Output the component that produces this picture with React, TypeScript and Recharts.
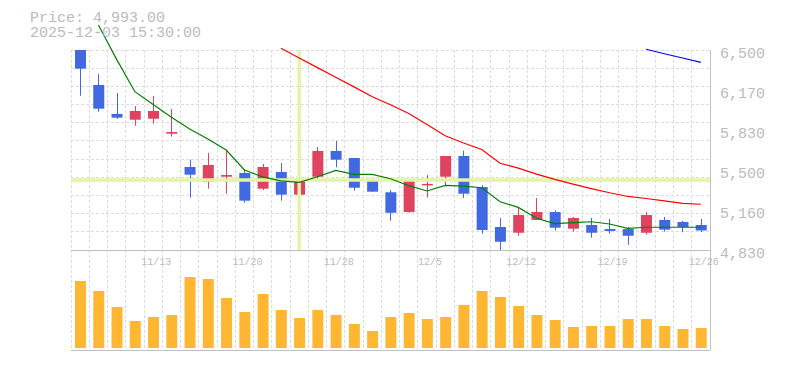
import { Bar, BarChart, CartesianGrid, ComposedChart, Line, ReferenceLine, XAxis, YAxis } from "recharts"

// daily candles, 2025/11/7 - 12/26
const dates = [
  "11/7", "11/10", "11/11", "11/12", "11/13", "11/14", "11/17", "11/18", "11/19", "11/20",
  "11/21", "11/25", "11/26", "11/27", "11/28", "12/1", "12/2", "12/3", "12/4", "12/5",
  "12/8", "12/9", "12/10", "12/11", "12/12", "12/15", "12/16", "12/17", "12/18", "12/19",
  "12/22", "12/23", "12/24", "12/25", "12/26",
]
const opens = [
  6500, 6208, 5966, 5918, 5926, 5801, 5523, 5400, 5442, 5473,
  5342, 5481, 5292, 5442, 5657, 5598, 5406, 5312, 5147, 5376,
  5442, 5615, 5356, 5022, 4974, 5081, 5147, 5008, 5039, 5005,
  5005, 4974, 5081, 5064, 5039,
]
const highs = [
  6500, 6300, 6141, 6032, 6116, 6007, 5584, 5640, 5665, 5504,
  5548, 5556, 5415, 5690, 5740, 5598, 5420, 5331, 5415, 5456,
  5615, 5659, 5373, 5097, 5183, 5264, 5161, 5106, 5097, 5089,
  5022, 5147, 5106, 5072, 5089,
]
const lows = [
  6118, 5985, 5926, 5868, 5885, 5776, 5267, 5342, 5300, 5225,
  5331, 5242, 5233, 5420, 5521, 5325, 5317, 5075, 5141, 5267,
  5370, 5264, 4966, 4830, 4949, 5081, 4991, 4983, 4933, 4966,
  4874, 4958, 4983, 4978, 4980,
]
const closes = [
  6344, 6010, 5935, 5991, 5991, 5815, 5459, 5540, 5456, 5242,
  5523, 5292, 5415, 5657, 5584, 5350, 5317, 5141, 5415, 5382,
  5615, 5300, 4997, 4899, 5122, 5147, 5016, 5097, 4974, 4989,
  4949, 5122, 5000, 5022, 4993,
]
const ma5 = [
  null, 6709, 6422, 6152, 6045, 5938, 5840, 5757, 5665, 5498,
  5440, 5407, 5395, 5442, 5495, 5462, 5462, 5425, 5367, 5323,
  5370, 5364, 5350, 5233, 5186, 5095, 5050, 5058, 5066, 5047,
  5011, 5020, 5020, 5020, 5020,
]
const ma25 = [
  null, null, null, null, null, null, null, null, null, null,
  null, 6514, 6433, 6353, 6272, 6192, 6109, 6043, 5970, 5877,
  5784, 5723, 5669, 5554, 5514, 5463, 5420, 5380, 5343, 5308,
  5277, 5260, 5240, 5219, 5212,
]
const ma75 = [
  null, null, null, null, null, null, null, null, null, null,
  null, null, null, null, null, null, null, null, null, null,
  null, null, null, null, null, null, null, null, null, null,
  null, 6506, 6469, 6433, 6397,
]
const volumes = [
  67000, 57000, 41000, 27000, 31000, 33000, 71000, 69000, 50000, 36000,
  54000, 38000, 30000, 38000, 33000, 24000, 17000, 31000, 35000, 29000,
  31000, 43000, 57000, 51000, 42000, 33000, 28000, 21000, 22000, 22000,
  29000, 29000, 22000, 19000, 20000,
]
const priceTicks = [4830, 5164, 5498, 5832, 6166, 6500]
const dateTicks = ["11/13", "11/20", "11/28", "12/5", "12/12", "12/19", "12/26"]
const crossDate = "11/26"
const crossPrice = 5415
const headerPrice = "Price: 4,993.00"
const headerTime = "2025-12-03 15:30:00"

const data = dates.map((date, i) => ({
  date,
  open: opens[i],
  high: highs[i],
  low: lows[i],
  close: closes[i],
  ma5: ma5[i],
  ma25: ma25[i],
  ma75: ma75[i],
  volume: volumes[i],
}))

const W = 785
const LEFT = 71
const RIGHT = 75
const FRAME_TOP = 50
const FRAME_H = 200
const VOL_H = 100
const GRID_ROWS = 11
const UP = "#e0435f"
const DOWN = "#4169e1"
const GRID = "#dcdcdc"
const BORDER = "#c0c0c0"
const TEXT = "#bbbbbb"
const CROSS = "#e3f4a6"
const FONT = "'Liberation Mono', 'DejaVu Sans Mono', monospace"

const priceMin = priceTicks[0]
const priceMax = priceTicks[priceTicks.length - 1]
// plot area runs to the top of the svg so the averages are not clipped
const priceTop = priceMax + ((priceMax - priceMin) * FRAME_TOP) / FRAME_H

const bandLines = ({ offset }: any) =>
  dates.map((_, i) => offset.left + (i * offset.width) / dates.length)

function Candle(props: any) {
  const { x, y, width, height, payload } = props
  if (x == null || !payload) return null
  const top = Math.min(y, y + height)
  const h = Math.abs(height)
  const range = payload.high - payload.low
  const toY = (v: number) => (range > 0 ? top + ((payload.high - v) / range) * h : top)
  const color = payload.close >= payload.open ? UP : DOWN
  const bodyTop = toY(Math.max(payload.open, payload.close))
  const bodyBottom = toY(Math.min(payload.open, payload.close))
  const cx = Math.floor(x + width / 2) + 0.5
  return (
    <g>
      <line x1={cx} x2={cx} y1={top} y2={top + h} stroke={color} strokeWidth={1} />
      <rect x={x} y={bodyTop} width={width} height={Math.max(bodyBottom - bodyTop, 1.5)} fill={color} />
    </g>
  )
}

export default function App() {
  return (
    <div style={{ position: "absolute", left: 0, top: 0, width: W, height: 370, background: "#fff", overflow: "hidden" }}>
      <div style={{ position: "absolute", left: 30, top: 11, fontFamily: FONT, fontSize: 15, lineHeight: "15px", color: TEXT, whiteSpace: "pre", zIndex: 2 }}>
        <div>{headerPrice}</div>
        <div>{headerTime}</div>
      </div>

      <div style={{ position: "absolute", left: 0, top: 0 }}>
        <ComposedChart width={W} height={FRAME_TOP + FRAME_H + 20} data={data} margin={{ top: 0, right: 0, left: LEFT, bottom: 20 }}>
          <CartesianGrid
            y={FRAME_TOP}
            height={FRAME_H}
            stroke={GRID}
            strokeDasharray="3 2"
            shapeRendering="crispEdges"
            horizontalCoordinatesGenerator={() =>
              Array.from({ length: GRID_ROWS }, (_, j) => FRAME_TOP + (j * FRAME_H) / GRID_ROWS)
            }
            verticalCoordinatesGenerator={bandLines}
          />
          <CartesianGrid
            y={FRAME_TOP}
            height={FRAME_H}
            stroke={BORDER}
            shapeRendering="crispEdges"
            horizontalCoordinatesGenerator={() => [FRAME_TOP + FRAME_H]}
            verticalCoordinatesGenerator={({ offset }: any) => [offset.left + offset.width]}
          />
          <XAxis dataKey="date" hide />
          <YAxis
            orientation="right"
            width={RIGHT}
            domain={[priceMin, priceTop]}
            ticks={priceTicks}
            interval={0}
            axisLine={false}
            tickLine={false}
            tickMargin={4}
            tickFormatter={(v: number) => (Math.round(v / 10) * 10).toLocaleString("en-US")}
            tick={{ fill: TEXT, fontSize: 15, fontFamily: FONT, dy: 3 }}
          />
          <ReferenceLine y={crossPrice} stroke={CROSS} strokeWidth={3.5} />
          <ReferenceLine
            segment={[{ x: crossDate, y: priceMin }, { x: crossDate, y: priceMax }]}
            stroke={CROSS}
            strokeWidth={3.5}
          />
          <Line type="linear" dataKey="ma75" stroke="#0000ff" strokeWidth={1.2} dot={false} isAnimationActive={false} />
          <Line type="linear" dataKey="ma25" stroke="#ff0000" strokeWidth={1.2} dot={false} isAnimationActive={false} />
          <Line type="linear" dataKey="ma5" stroke="#008000" strokeWidth={1.2} dot={false} isAnimationActive={false} />
          <Bar dataKey={(d: any) => [d.low, d.high]} barSize={11} shape={Candle} isAnimationActive={false} />
        </ComposedChart>
      </div>

      <div style={{ position: "absolute", left: 0, top: FRAME_TOP + FRAME_H - 10 }}>
        <BarChart width={W} height={VOL_H + 20} data={data} margin={{ top: 10, right: RIGHT, left: LEFT, bottom: 10 }}>
          <CartesianGrid
            stroke={GRID}
            strokeDasharray="3 2"
            shapeRendering="crispEdges"
            horizontal={false}
            verticalCoordinatesGenerator={bandLines}
          />
          <CartesianGrid
            stroke={BORDER}
            shapeRendering="crispEdges"
            horizontalCoordinatesGenerator={({ offset }: any) => [offset.top, offset.top + offset.height]}
            verticalCoordinatesGenerator={({ offset }: any) => [offset.left + offset.width]}
          />
          <XAxis
            dataKey="date"
            orientation="top"
            mirror
            height={20}
            ticks={dateTicks}
            interval={0}
            axisLine={false}
            tickLine={false}
            tickSize={0}
            tickMargin={8}
            tick={{ fill: TEXT, fontSize: 10, fontFamily: FONT, dx: 3 }}
          />
          <YAxis hide domain={[-2000, 98000]} />
          <Bar dataKey="volume" fill="#ffb733" barSize={11} isAnimationActive={false} />
        </BarChart>
      </div>
    </div>
  )
}
